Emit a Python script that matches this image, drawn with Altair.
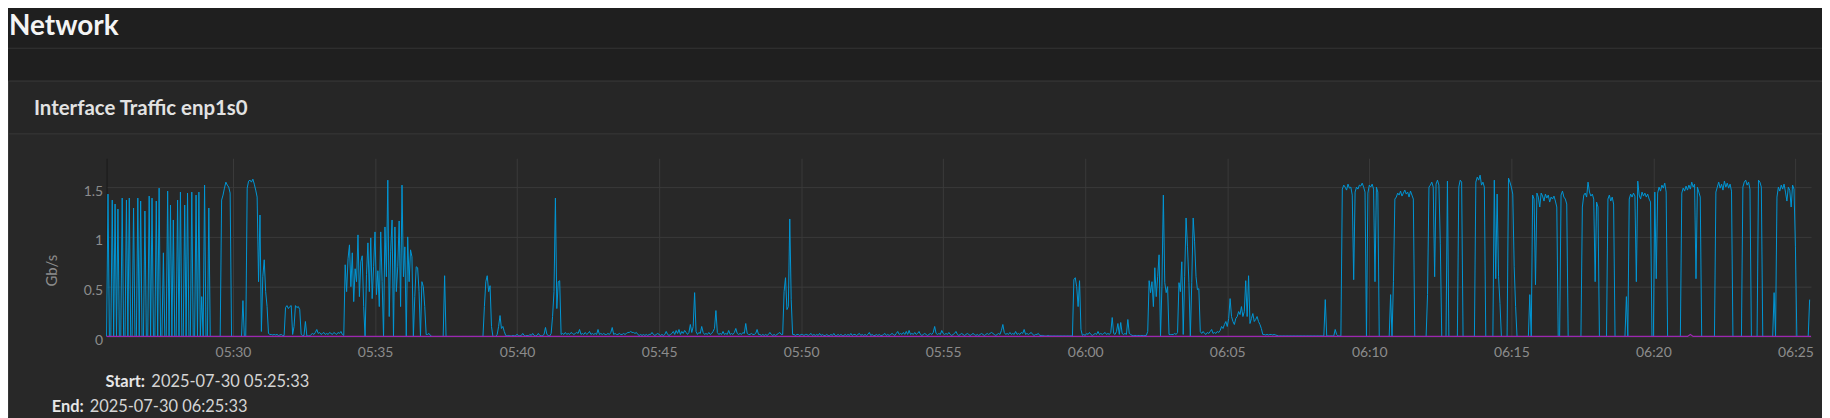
import altair as alt
import pandas as pd

# ---------------- text ----------------
PAGE_TITLE = "Network"
CARD_TITLE = "Interface Traffic enp1s0"
Y_TITLE = "Gb/s"
START_LABEL = "Start:"
START_VALUE = "2025-07-30 05:25:33"
END_LABEL = "End:"
END_VALUE = "2025-07-30 06:25:33"

# ---------------- data ----------------
# inbound traffic (Gb/s), one reading every 3 s starting 05:25:33, one list per 5 minutes
SAMPLE_SECONDS = 3
WINDOW_SECONDS = 3600
rx_0525 = [0, 1.43, 0, 0, 1.37, 0, 1.33, 0, 1.28, 0,
           0, 1.39, 0, 0, 1.37, 0, 1.39, 0, 0, 1.29,
           0, 0, 1.39, 0, 1.36, 0, 0, 1.26, 0, 0,
           1.41, 0, 1.39, 0, 0, 1.36, 0, 1.49, 0, 0,
           0.84, 0, 0, 1.46, 0, 1.32, 0, 1.17, 0, 0,
           1.37, 0, 1.45, 0, 0, 1.32, 0, 1.44, 0, 0,
           1.45, 0, 0, 1.42, 0, 1.45, 0, 0.4, 0, 1.52,
           0, 0, 1.29, 0, 0, 0, 0, 0, 0, 0,
           0, 1.37, 1.42, 1.49, 1.55, 1.52, 1.5, 1.44, 0, 0,
           0, 0, 0, 0, 0, 0, 0.36, 0, 0, 1.49]
rx_0530 = [1.56, 1.57, 1.55, 1.58, 1.53, 1.47, 1.4, 0.55, 1.22, 0.05,
           0.6, 0.77, 0.45, 0.3, 0.03, 0.02, 0.02, 0.015, 0.02, 0.015,
           0.02, 0.01, 0.015, 0.02, 0.01, 0.01, 0.29, 0.31, 0.28, 0.3,
           0.31, 0.02, 0.1, 0.31, 0.29, 0.3, 0.27, 0.02, 0.01, 0.01,
           0.15, 0.005, 0.005, 0.005, 0.02, 0.03, 0.02, 0.04, 0.07, 0.03,
           0.04, 0.02, 0.03, 0.04, 0.02, 0.03, 0.02, 0.04, 0.03, 0.02,
           0.04, 0.03, 0.02, 0.04, 0.03, 0.05, 0.02, 0.01, 0.72, 0.45,
           0.78, 0.92, 0.5, 0.84, 0.35, 0.68, 0.55, 1.02, 0.4, 0.75,
           0.81, 0.3, 0, 0.62, 0.94, 0.45, 0.99, 0.38, 0.7, 1.05,
           0.42, 0.66, 0.3, 1.05, 0.55, 0, 1.1, 0.6, 1.57, 0.2]
rx_0535 = [0.85, 1.17, 0, 1.1, 0.45, 0.7, 1.16, 0.3, 1.52, 0.6,
           0.9, 0, 1.0, 0.55, 0.87, 0.8, 0, 0.4, 0.7, 0.69,
           0.45, 0, 0.55, 0.5, 0.3, 0.02, 0.02, 0.03, 0.01, 0,
           0, 0, 0, 0, 0, 0, 0, 0, 0.61, 0,
           0, 0, 0, 0, 0, 0, 0, 0, 0, 0,
           0, 0, 0, 0, 0, 0, 0, 0, 0, 0,
           0, 0, 0, 0, 0, 0, 0.3, 0.55, 0.61, 0.45,
           0.51, 0.1, 0, 0, 0, 0.02, 0.1, 0.21, 0.08, 0.1,
           0.05, 0.01, 0.005, 0.01, 0.005, 0.005, 0.01, 0.005, 0.01, 0.02,
           0.01, 0.005, 0.01, 0.03, 0.01, 0.005, 0.01, 0.005, 0.02, 0.01]
rx_0540 = [0.03, 0.01, 0.005, 0.01, 0.03, 0.01, 0.005, 0.01, 0.02, 0.09,
           0.02, 0.01, 0.005, 0.03, 0.2, 0.45, 1.39, 0.28, 0.55, 0.56,
           0.02, 0.03, 0.02, 0.04, 0.02, 0.03, 0.02, 0.04, 0.03, 0.02,
           0.03, 0.04, 0.03, 0.07, 0.02, 0.03, 0.02, 0.04, 0.02, 0.03,
           0.05, 0.02, 0.03, 0.02, 0.03, 0.02, 0.07, 0.02, 0.03, 0.02,
           0.03, 0.02, 0.02, 0.03, 0.02, 0.04, 0.09, 0.02, 0.03, 0.02,
           0.02, 0.03, 0.02, 0.02, 0.03, 0.02, 0.03, 0.04, 0.04, 0.05,
           0.04, 0.04, 0.03, 0.04, 0.02, 0.01, 0.02, 0.01, 0.02, 0.01,
           0.02, 0.01, 0.02, 0.02, 0.04, 0.02, 0.01, 0.02, 0.03, 0.02,
           0.01, 0.02, 0.01, 0.02, 0.05, 0.02, 0.01, 0.02, 0.03, 0.05]
rx_0545 = [0.02, 0.06, 0.03, 0.07, 0.02, 0.05, 0.03, 0.06, 0.04, 0.02,
           0.04, 0.12, 0.04, 0.1, 0.44, 0.05, 0.02, 0.04, 0.03, 0.1,
           0.04, 0.02, 0.03, 0.02, 0.04, 0.02, 0.03, 0.05, 0.08, 0.26,
           0.04, 0.02, 0.03, 0.02, 0.05, 0.02, 0.03, 0.02, 0.06, 0.02,
           0.03, 0.02, 0.04, 0.08, 0.03, 0.02, 0.03, 0.02, 0.04, 0.03,
           0.13, 0.03, 0.02, 0.02, 0.03, 0.02, 0.02, 0.03, 0.07, 0.02,
           0.02, 0.01, 0.02, 0.01, 0.02, 0.01, 0.02, 0.04, 0.02, 0.01,
           0.02, 0.01, 0.02, 0.03, 0.04, 0.02, 0.02, 0.45, 0.59, 0.27,
           0.3, 1.18, 0.37, 0.02, 0.02, 0.01, 0.02, 0.02, 0.01, 0.02,
           0.02, 0.01, 0.02, 0.02, 0.01, 0.02, 0.03, 0.01, 0.02, 0.01]
rx_0550 = [0.02, 0.01, 0.03, 0.01, 0.02, 0.01, 0.01, 0.02, 0.01, 0.01,
           0.02, 0.01, 0.03, 0.01, 0.01, 0.02, 0.01, 0.02, 0.01, 0.01,
           0.02, 0.01, 0.02, 0.01, 0.03, 0.01, 0.02, 0.02, 0.01, 0.02,
           0.03, 0.01, 0.02, 0.01, 0.02, 0.01, 0.02, 0.04, 0.01, 0.02,
           0.01, 0.01, 0.02, 0.01, 0.02, 0.01, 0.01, 0.02, 0.03, 0.01,
           0.02, 0.01, 0.02, 0.03, 0.02, 0.01, 0.03, 0.05, 0.02, 0.03,
           0.02, 0.04, 0.02, 0.05, 0.02, 0.06, 0.02, 0.03, 0.02, 0.04,
           0.02, 0.03, 0.05, 0.02, 0.01, 0.02, 0.03, 0.02, 0.01, 0.02,
           0.03, 0.02, 0.04, 0.1, 0.03, 0.02, 0.03, 0.02, 0.06, 0.03,
           0.02, 0.03, 0.02, 0.04, 0.02, 0.01, 0.02, 0.03, 0.05, 0.02]
rx_0555 = [0.01, 0.02, 0.03, 0.02, 0.01, 0.02, 0.03, 0.02, 0.01, 0.02,
           0.03, 0.02, 0.01, 0.02, 0.01, 0.02, 0.03, 0.02, 0.01, 0.02,
           0.03, 0.02, 0.03, 0.04, 0.03, 0.02, 0.01, 0.02, 0.03, 0.02,
           0.06, 0.12, 0.04, 0.02, 0.03, 0.02, 0.04, 0.02, 0.03, 0.02,
           0.05, 0.02, 0.03, 0.02, 0.04, 0.03, 0.07, 0.02, 0.03, 0.02,
           0.03, 0.04, 0.02, 0.01, 0.02, 0.02, 0.03, 0.01, 0.01, 0.01,
           0.005, 0.005, 0.005, 0.01, 0.005, 0.005, 0.005, 0.005, 0.005, 0.005,
           0.005, 0.005, 0.005, 0.005, 0.005, 0.005, 0.005, 0.005, 0.005, 0.005,
           0.005, 0.57, 0.59, 0.5, 0.3, 0.56, 0.07, 0.01, 0.02, 0.01,
           0.03, 0.02, 0.04, 0.02, 0.01, 0.02, 0.03, 0.02, 0.05, 0.02]
rx_0600 = [0.03, 0.02, 0.03, 0.04, 0.02, 0.03, 0.02, 0.04, 0.19, 0.03,
           0.02, 0.05, 0.13, 0.02, 0.14, 0.03, 0.02, 0.03, 0.02, 0.17,
           0.03, 0.02, 0.01, 0.01, 0.01, 0.01, 0.01, 0.01, 0.01, 0.01,
           0.01, 0.01, 0.01, 0.05, 0.56, 0.44, 0.55, 0.3, 0.69, 0.4,
           0.6, 0.82, 0, 0.5, 1.42, 0.54, 0.44, 0.5, 0.02, 0.02,
           0.02, 0.02, 0.03, 0.02, 0.04, 0.54, 0.45, 0.75, 0.02, 0.6,
           1.19, 0.9, 0.54, 0, 0.54, 1.19, 0.95, 0.6, 0.47, 0.48,
           0.05, 0.03, 0.05, 0.03, 0.02, 0.04, 0.03, 0.05, 0.07, 0.03,
           0.04, 0.03, 0.05, 0.04, 0.06, 0.1, 0.08, 0.12, 0.15, 0.1,
           0.18, 0.38, 0.2, 0.15, 0.12, 0.18, 0.2, 0.25, 0.22, 0.3]
rx_0605 = [0.2, 0.25, 0.56, 0.2, 0.61, 0.13, 0.18, 0.23, 0.15, 0.17,
           0.2, 0.15, 0.12, 0.08, 0.02, 0.02, 0.015, 0.02, 0.015, 0.02,
           0.02, 0.015, 0.02, 0.015, 0.01, 0.005, 0.005, 0.005, 0.005, 0.005,
           0.005, 0.005, 0.005, 0.005, 0.005, 0.005, 0.005, 0.005, 0.005, 0.005,
           0.005, 0.005, 0.005, 0.005, 0.005, 0.005, 0.005, 0.005, 0.005, 0.005,
           0.005, 0.005, 0.005, 0.005, 0.005, 0.005, 0.005, 0.005, 0.37, 0.005,
           0.005, 0.005, 0.005, 0.005, 0.005, 0.07, 0.02, 0.005, 0.005, 0.005,
           1.48, 1.52, 1.5, 1.47, 1.53, 1.49, 1.5, 1.42, 0.57, 1.45,
           1.5, 1.48, 1.52, 1.51, 1.54, 1.5, 1.45, 0, 1.44, 1.52,
           1.5, 1.53, 1.48, 0.55, 1.5, 1.45, 0, 0, 0, 0]
rx_0610 = [0, 0, 0, 0, 0.42, 0, 0.55, 1.38, 1.4, 1.44,
           1.42, 1.46, 1.41, 1.44, 1.47, 1.43, 1.45, 1.4, 1.46, 1.42,
           1.38, 0, 0, 0, 0, 0, 0, 0, 0, 0,
           0.42, 1.5, 1.52, 1.55, 1.5, 0.6, 1.53, 1.57, 1.52, 0.93,
           0, 0, 0, 0, 1.56, 0, 0, 0, 0, 0,
           0, 0, 1.5, 1.57, 1.55, 0, 0, 0, 0, 0,
           0, 0, 0, 0, 1.55, 1.6, 1.57, 1.62, 1.52, 1.55,
           1.5, 0, 0, 0, 0, 0, 0, 1.57, 0.58, 1.43,
           0.6, 0.33, 0, 0, 0, 0, 0, 1.59, 1.55, 1.5,
           1.43, 0.7, 0.3, 0, 0, 0, 0, 0, 0, 0]
rx_0615 = [0, 0, 0.42, 0, 1.42, 1.38, 0.52, 1.44, 1.4, 1.3,
           1.44, 1.41, 1.36, 1.43, 1.39, 1.42, 1.35, 1.4, 1.38, 1.41,
           1.36, 1.3, 0, 0, 1.42, 1.46, 1.4, 1.38, 1.33, 0,
           0, 0, 0, 0, 0, 0, 0, 0, 0, 1.3,
           1.42, 1.44, 1.4, 1.55, 1.45, 1.41, 1.43, 1.38, 0.55, 1.35,
           1.3, 0, 0, 0, 0, 0, 0, 1.38, 1.42, 1.36,
           1.4, 1.33, 0, 0, 0, 0, 0, 0, 0, 0,
           0.4, 0, 1.38, 1.43, 1.4, 1.44, 1.41, 0.55, 1.56, 1.42,
           1.38, 1.45, 1.41, 1.44, 1.4, 1.43, 1.38, 1.35, 0, 0,
           1.45, 0.58, 1.44, 1.5, 1.46, 1.52, 1.49, 1.54, 1.45, 0]
rx_0620 = [0, 0, 0, 0, 0, 0, 0, 0, 0, 1.44,
           1.49, 1.46, 1.51, 1.47, 1.52, 1.48, 1.55, 1.5, 1.53, 0.58,
           1.5, 1.45, 1.4, 0, 0, 0, 0, 0, 0, 0,
           0, 0, 0, 1.45, 1.5, 1.55, 1.49, 1.53, 1.47, 1.56,
           1.5, 1.54, 1.49, 1.53, 1.46, 0, 0, 0, 0, 0,
           0, 0, 1.5, 1.55, 1.57, 1.52, 1.55, 1.48, 0, 0,
           0, 0, 0, 1.57, 1.55, 1.5, 0, 0, 0, 0,
           0, 0, 0, 0, 0.44, 0, 1.4, 1.5, 1.46, 1.52,
           1.48, 1.53, 1.45, 1.36, 1.5, 1.47, 1.3, 1.52, 1.48, 0.9,
           0, 0, 0, 0, 0, 0, 0, 0, 0, 0.37]

# outbound traffic (Gb/s): flat on zero with one tiny blip (vertices, seconds after 05:25:33)
tx_offset_s = [0, 3339, 3345, 3351, 3600]
tx_gbps = [0, 0, 0.02, 0, 0]

# x tick labels: every 5 minutes, first one (05:30:00) is 267 s after the start
x_tick_labels = ["05:30", "05:35", "05:40", "05:45", "05:50", "05:55",
                 "06:00", "06:05", "06:10", "06:15", "06:20", "06:25"]
FIRST_TICK_S = 267
TICK_STEP_S = 300
y_ticks = [0, 0.5, 1, 1.5]
y_max = 1.79

# ---------------- assemble table ----------------
rx_gbps = [v for seg in [rx_0525, rx_0530, rx_0535, rx_0540, rx_0545, rx_0550,
                         rx_0555, rx_0600, rx_0605, rx_0610, rx_0615, rx_0620] for v in seg]
rx_offset_s = [SAMPLE_SECONDS * i for i in range(len(rx_gbps))]
x_tick_s = [FIRST_TICK_S + TICK_STEP_S * k for k in range(len(x_tick_labels))]

df = pd.DataFrame({
    "sec": rx_offset_s + tx_offset_s,
    "gbps": rx_gbps + tx_gbps,
    "series": ["rx"] * len(rx_gbps) + ["tx"] * len(tx_gbps),
})

label_array = "[" + ",".join("'%s'" % s for s in x_tick_labels) + "]"
x_label_expr = "%s[round((datum.value - %d) / %d)]" % (label_array, FIRST_TICK_S, TICK_STEP_S)

# ---------------- style ----------------
FONT = "Lato"
PAGE_BG = "#1f1f1f"
HEADER_BG = "#262626"
BODY_BG = "#282828"
BORDER = "#383838"
GRID = "#3a3a3a"
LABEL_GRAY = "#8c8c8c"
RX_COLOR = "#0096d6"
TX_COLOR = "#9c27b0"

MARGIN = 8                 # page margin around the chart
W, H = 1830, 418           # window
PL, PT = 107, 158          # plot origin on the page
PW, PH = 1712, 179         # plot size
SVG_W, SVG_H = W - MARGIN, H - MARGIN


def X(px):
    return px - PL


def Y(py):
    return py - PT


x_enc = alt.X("sec:Q",
              scale=alt.Scale(domain=[0, WINDOW_SECONDS], nice=False, zero=False),
              axis=alt.Axis(title=None, values=x_tick_s, labelExpr=x_label_expr,
                            grid=True, gridColor=GRID, gridWidth=1,
                            domain=False, ticks=False, labelFlush=False, labelOverlap=False,
                            labelColor=LABEL_GRAY, labelFont=FONT, labelFontSize=14,
                            labelBaseline="alphabetic", labelPadding=20))
y_enc = alt.Y("gbps:Q",
              scale=alt.Scale(domain=[0, y_max], nice=False, zero=True),
              axis=alt.Axis(title=None, values=y_ticks, format="~g",
                            grid=True, gridColor=GRID, gridWidth=1,
                            domain=True, domainColor="#1a1a1a", domainWidth=1,
                            ticks=False, labelColor=LABEL_GRAY, labelFont=FONT, labelFontSize=14,
                            labelPadding=4, labelOffset=4))

base = alt.Chart(df).encode(x=x_enc, y=y_enc)
rx_line = base.transform_filter(alt.datum.series == "rx").mark_line(color=RX_COLOR, strokeWidth=1)
tx_line = base.transform_filter(alt.datum.series == "tx").mark_line(color=TX_COLOR, strokeWidth=1.3)

one = alt.Data(values=[{"k": 0}])


def rect(x1, x2, y1, y2, fill, stroke=None):
    kw = {"fill": fill}
    if stroke:
        kw.update(stroke=stroke, strokeWidth=1)
    return alt.Chart(one).mark_rect(**kw).encode(
        x=alt.value(X(x1)), x2=alt.value(X(x2)), y=alt.value(Y(y1)), y2=alt.value(Y(y2)))


def hline(x1, x2, y, color):
    return alt.Chart(one).mark_rule(color=color, strokeWidth=1).encode(
        x=alt.value(X(x1)), x2=alt.value(X(x2)), y=alt.value(Y(y)))


def vline(x, y1, y2, color):
    return alt.Chart(one).mark_rule(color=color, strokeWidth=1).encode(
        x=alt.value(X(x)), y=alt.value(Y(y1)), y2=alt.value(Y(y2)))


def label(txt, x, y, size, color, weight="normal", angle=0, align="left", baseline="alphabetic"):
    return alt.Chart(one).mark_text(text=txt, font=FONT, fontSize=size, color=color, fontWeight=weight,
                                    angle=angle, align=align, baseline=baseline).encode(
        x=alt.value(X(x)), y=alt.value(Y(y)))


decor = [
    rect(0, W, 0, 80, PAGE_BG),
    rect(0, 8, 80, H, PAGE_BG),
    rect(8.5, W + 10, 80.5, 133.5, HEADER_BG, BORDER),
    vline(8.5, 133, H, BORDER),
    hline(3, W, 47.5, "#353535"),
    label(PAGE_TITLE, 9, 34, 28, "#f4f4f4", "bold"),
    label(CARD_TITLE, 34, 115, 20.5, "#e2e2e2", "bold"),
    label(Y_TITLE, 52, 271, 15, LABEL_GRAY, angle=270, align="center", baseline="middle"),
    label(START_LABEL, 106, 388, 16.5, "#e6e6e6", "bold"),
    label(START_VALUE, 152, 388, 16.5, "#d4d4d4"),
    label(END_LABEL, 52, 413, 16.5, "#e6e6e6", "bold"),
    label(END_VALUE, 90, 413, 16.5, "#d4d4d4"),
]

chart = alt.layer(*decor, rx_line, tx_line).properties(
    width=PW, height=PH,
    padding={"left": PL - MARGIN, "top": PT - MARGIN,
             "right": SVG_W - (PL - MARGIN) - PW, "bottom": SVG_H - (PT - MARGIN) - PH},
    autosize=alt.AutoSizeParams(type="none"),
).configure(background=BODY_BG).configure_view(stroke=None)

chart.save("out.html", embed_options={"renderer": "svg", "actions": False})
